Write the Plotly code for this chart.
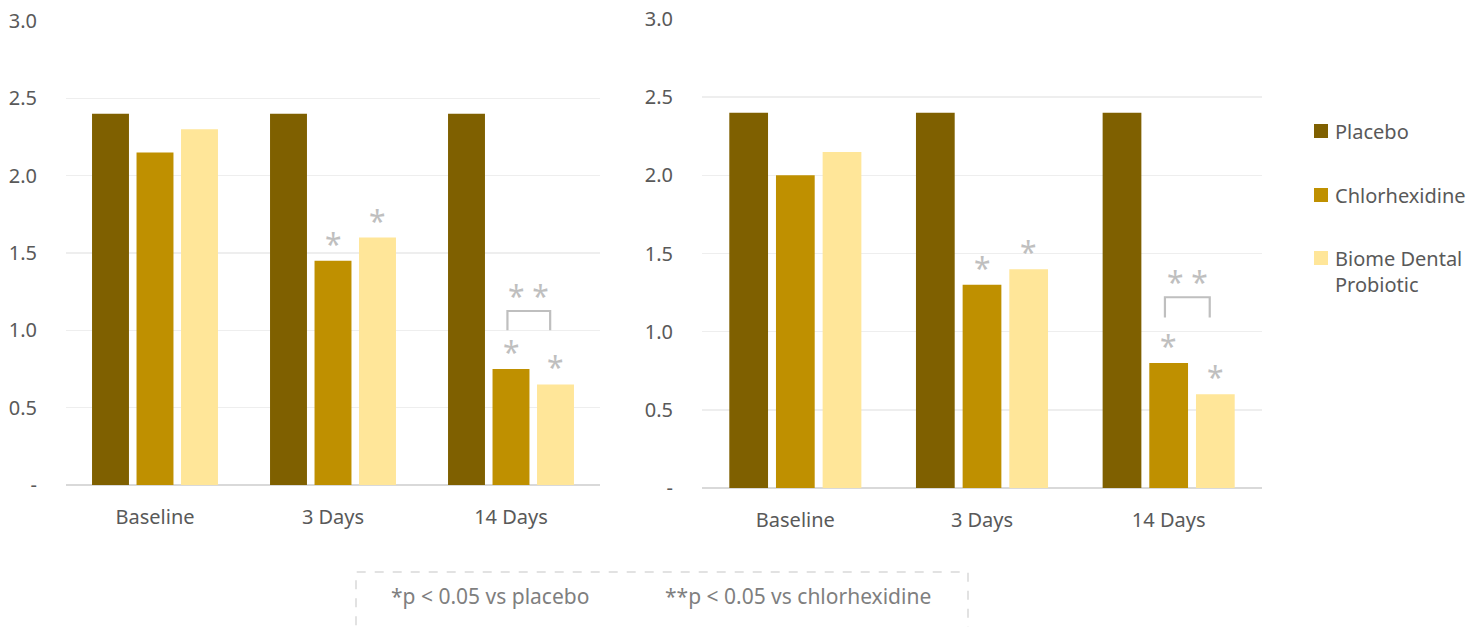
import plotly.graph_objects as go

categories = ["Baseline", "3 Days", "14 Days"]
series_names = ["Placebo", "Chlorhexidine", "Biome Dental<br>Probiotic"]
series_colors = ["#7F6000", "#BF9000", "#FFE699"]

left_values = [
    [2.4, 2.4, 2.4],     # Placebo
    [2.15, 1.45, 0.75],  # Chlorhexidine
    [2.3, 1.6, 0.65],    # Biome Dental Probiotic
]
right_values = [
    [2.4, 2.4, 2.4],
    [2.0, 1.3, 0.8],
    [2.15, 1.4, 0.6],
]

# significance marks: (category index, series index)
sig_vs_placebo = [(1, 1), (1, 2), (2, 1), (2, 2)]
# bracket vs chlorhexidine: (category index, from series, to series, bracket bottom, bracket top)
bracket_left = (2, 1, 2, 1.0, 1.125)
bracket_right = (2, 1, 2, 1.09, 1.22)

tick_vals = [0, 0.5, 1.0, 1.5, 2.0, 2.5, 3.0]
tick_text = ["-", "0.5", "1.0", "1.5", "2.0", "2.5", "3.0"]

footnotes = ["*p < 0.05 vs placebo", "**p < 0.05 vs chlorhexidine"]

W, H = 1482, 627
FONT = "Noto Sans"
TXT = "#595959"
STAR = "#BFBFBF"
SLOT = 0.25

fig = go.Figure()

panels = [
    ("x", "y", left_values, bracket_left),
    ("x2", "y2", right_values, bracket_right),
]
for xa, ya, vals, br in panels:
    for i, (name, col) in enumerate(zip(series_names, series_colors)):
        fig.add_trace(go.Bar(
            x=categories, y=vals[i], name=name.replace("<br>", " "),
            marker=dict(color=col, line=dict(width=0)),
            xaxis=xa, yaxis=ya, showlegend=False, hoverinfo="skip",
        ))
    for ci, si in sig_vs_placebo:
        fig.add_annotation(
            x=ci + (si - 1) * SLOT, y=vals[si][ci], xref=xa, yref=ya,
            text="*", showarrow=False, yanchor="bottom", yshift=-5,
            font=dict(family=FONT, size=30, color=STAR),
        )
    ci, s0, s1, yb, yt = br
    x0 = ci + (s0 - 1) * SLOT - 0.02
    x1 = ci + (s1 - 1) * SLOT - 0.03
    fig.add_shape(
        type="path",
        path=f"M {x0} {yb} L {x0} {yt} L {x1} {yt} L {x1} {yb}",
        xref=xa, yref=ya, line=dict(color=STAR, width=2.2),
    )
    fig.add_annotation(
        x=(x0 + x1) / 2, y=yt, xref=xa, yref=ya, text="*&nbsp;*",
        showarrow=False, yanchor="bottom", yshift=-7,
        font=dict(family=FONT, size=30, color=STAR),
    )

axis_common_x = dict(
    type="category", showgrid=False, zeroline=False, showline=False,
    ticks="", tickfont=dict(family=FONT, size=20, color=TXT),
    ticklabelstandoff=18, automargin=False, fixedrange=True,
)
axis_common_y = dict(
    range=[0, 3], tickvals=tick_vals, ticktext=tick_text,
    showgrid=True, gridcolor="#EEEEEE", gridwidth=1.5,
    zeroline=True, zerolinecolor="#D9D9D9", zerolinewidth=1.5,
    showline=False, ticks="", tickfont=dict(family=FONT, size=20, color=TXT),
    ticklabelstandoff=28, automargin=False, fixedrange=True,
)

fig.update_layout(
    width=W, height=H,
    margin=dict(l=0, r=0, t=0, b=0),
    paper_bgcolor="white", plot_bgcolor="white",
    barmode="group", bargap=0.25, bargroupgap=0.17,
    showlegend=False,
    xaxis=dict(domain=[66 / W, 600 / W], anchor="y", **axis_common_x),
    yaxis=dict(domain=[1 - 485 / H, 1 - 21 / H], anchor="x", **axis_common_y),
    xaxis2=dict(domain=[702 / W, 1262 / W], anchor="y2", **axis_common_x),
    yaxis2=dict(domain=[1 - 488 / H, 1 - 19 / H], anchor="x2", **axis_common_y),
)

# legend (manual, built from series lists)
legend_centers = [131, 195, 258]
for name, col, yc in zip(series_names, series_colors, legend_centers):
    fig.add_shape(
        type="rect", xref="paper", yref="paper",
        x0=1314 / W, x1=1328 / W, y0=1 - (yc + 7) / H, y1=1 - (yc - 7) / H,
        fillcolor=col, line=dict(width=0),
    )
    fig.add_annotation(
        x=1333 / W, y=1 - (yc - 15) / H, xref="paper", yref="paper",
        text=name, showarrow=False, xanchor="left", yanchor="top", align="left",
        font=dict(family=FONT, size=20, color=TXT),
    )

# footnote box
fig.add_shape(
    type="rect", xref="paper", yref="paper",
    x0=356 / W, x1=968 / W, y0=-0.1, y1=1 - 572 / H,
    line=dict(color="#D9D9D9", width=1.5, dash="dash"),
)
for txt, xc in zip(footnotes, [490, 798]):
    fig.add_annotation(
        x=xc / W, y=1 - 596 / H, xref="paper", yref="paper", text=txt,
        showarrow=False, xanchor="center", yanchor="middle",
        font=dict(family=FONT, size=21, color="#7F7F7F"),
    )

fig.write_html(
    "out.html",
    config={"displayModeBar": False, "staticPlot": True},
    post_script="document.body.style.margin='0px';document.body.style.overflow='hidden';",
)
